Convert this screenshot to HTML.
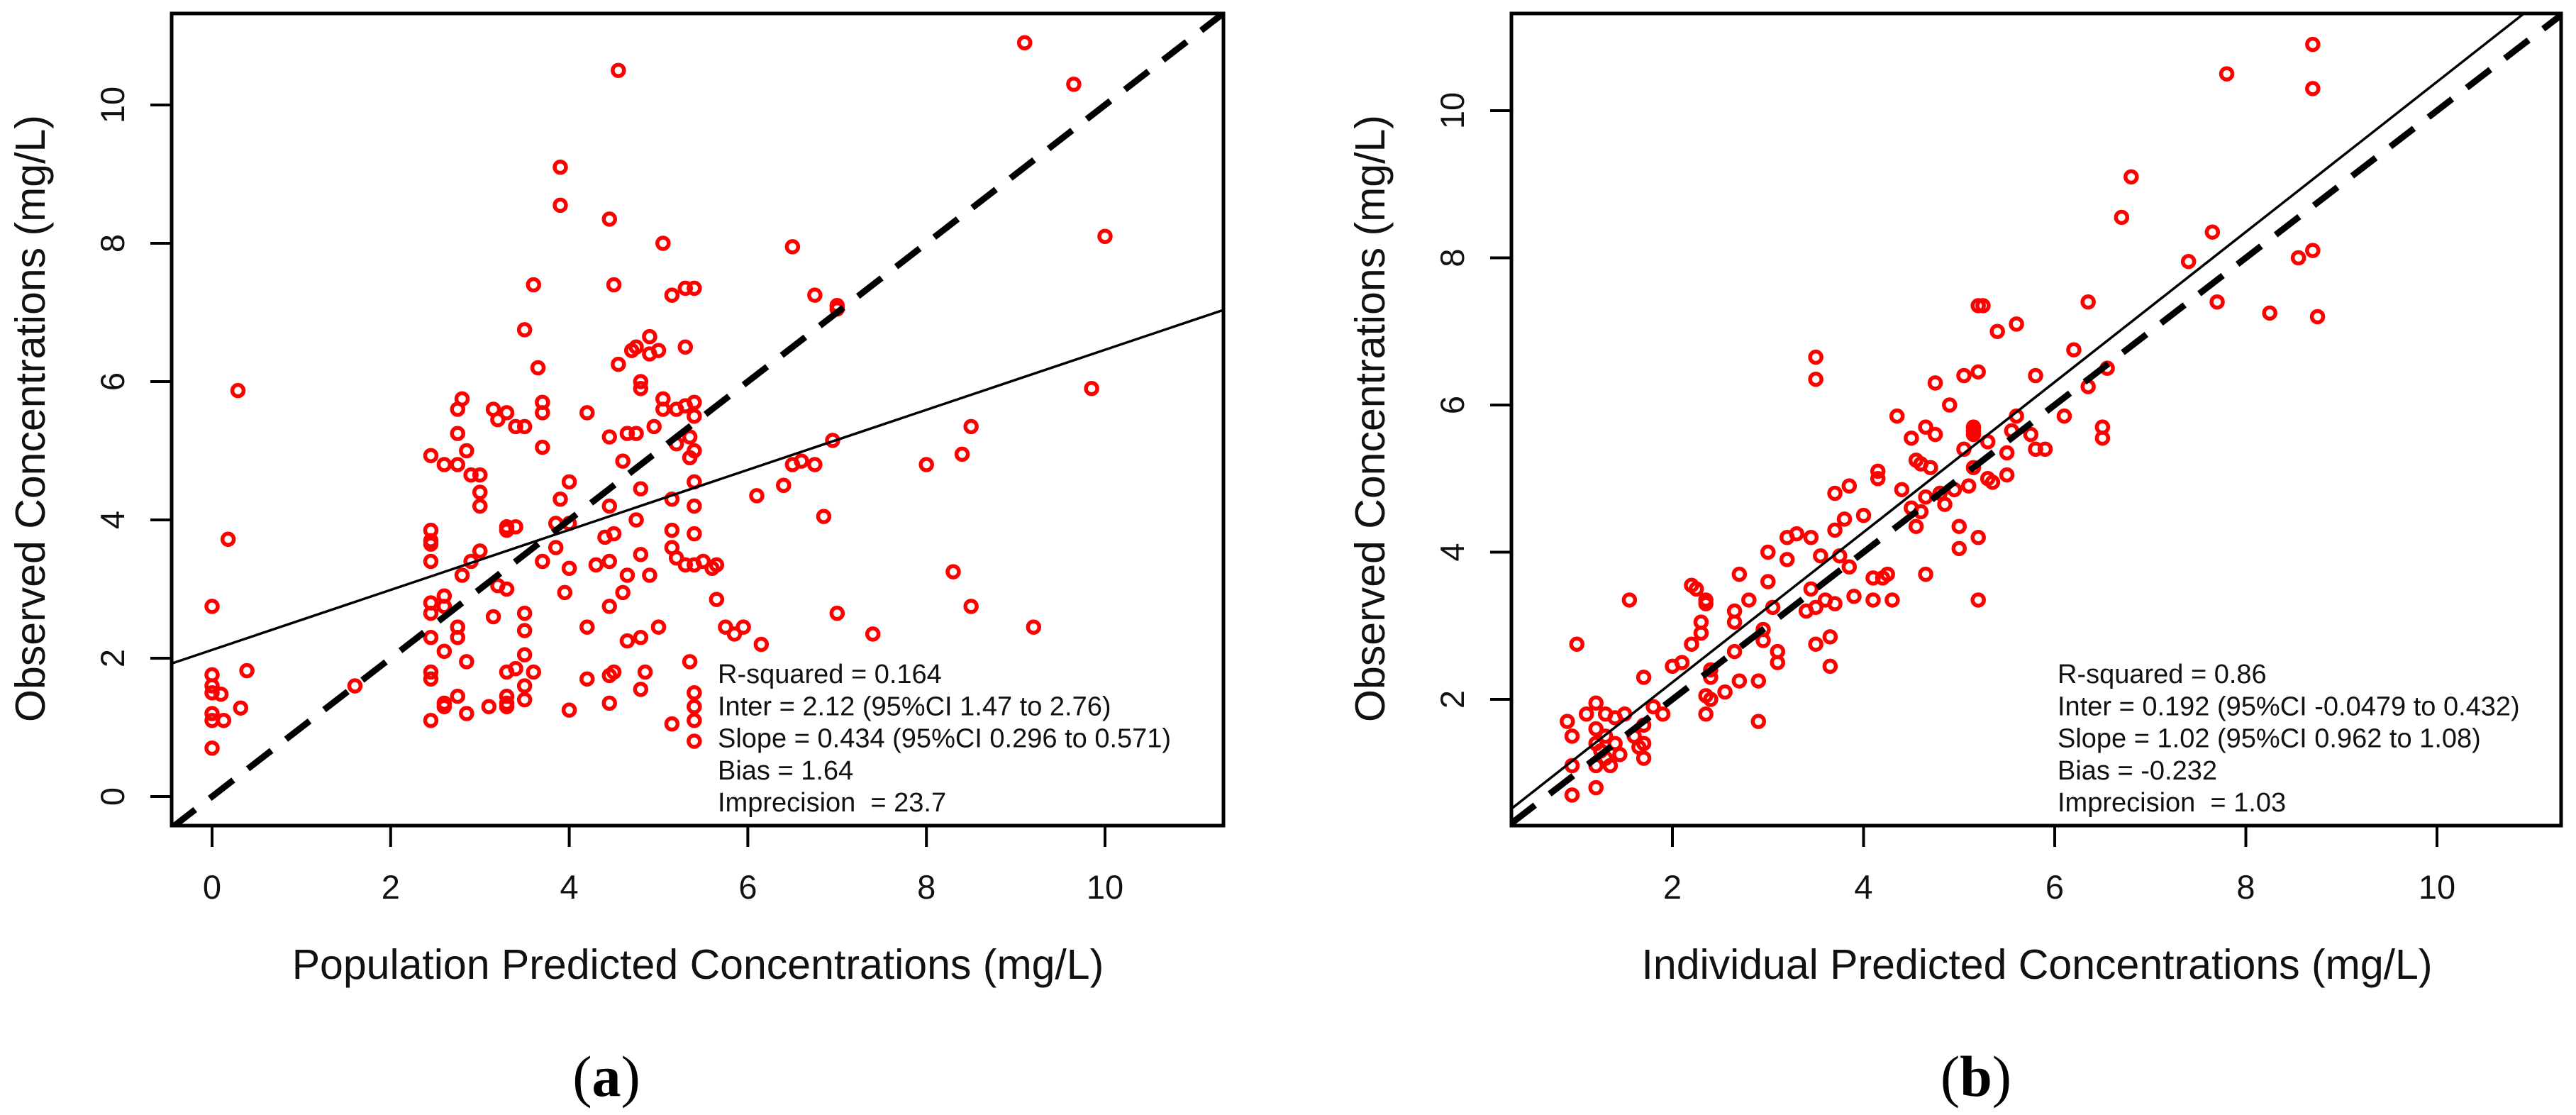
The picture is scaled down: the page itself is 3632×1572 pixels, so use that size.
<!DOCTYPE html>
<html><head><meta charset="utf-8"><style>
html,body{margin:0;padding:0;background:#fff;}
svg{display:block;font-family:"Liberation Sans",sans-serif;}
text{white-space:pre;}
</style></head><body>
<svg id="fig" width="3632" height="1572" viewBox="0 0 3632 1572" xmlns="http://www.w3.org/2000/svg">
<rect x="0" y="0" width="3632" height="1572" fill="#fff"/>
</svg>
<script>
// Panel (a) data
const popX = [0,0,0,0,0,0,0,0.1,0.13,0.18,0.29,0.32,0.39,1.6,
2.45,2.45,2.45,2.45,2.45,2.45,2.45,2.45,2.45,2.45,2.45,
2.6,2.6,2.6,2.6,2.6,2.6,2.75,2.75,2.75,2.75,2.75,2.75,2.8,2.8,2.85,2.85,2.85,2.9,2.9,
3.0,3.0,3.0,3.0,3.1,3.15,3.15,3.2,3.2,3.3,3.3,3.3,3.3,3.3,3.3,3.3,3.3,3.4,3.4,3.4,
3.5,3.5,3.5,3.5,3.5,3.5,3.5,3.6,3.6,3.65,3.7,3.7,3.7,3.7,3.85,3.85,3.9,3.9,3.9,3.95,
4.0,4.0,4.0,4.0,4.2,4.2,4.2,4.3,4.4,4.45,4.45,4.45,4.45,4.45,4.45,4.45,4.5,4.5,4.5,
4.55,4.55,4.6,4.6,4.65,4.65,4.65,4.7,4.75,4.75,4.75,4.8,4.8,4.8,4.8,4.8,4.8,4.85,
4.9,4.9,4.9,4.95,5.0,5.0,5.05,5.05,5.05,5.15,5.15,5.15,5.15,5.15,5.2,5.2,5.2,
5.3,5.3,5.3,5.3,5.35,5.35,5.35,5.4,5.4,5.4,5.4,5.4,5.4,5.4,5.4,5.4,5.4,5.4,5.4,
5.5,5.6,5.65,5.65,5.75,5.85,5.95,6.15,6.1,6.4,6.5,6.5,6.6,6.75,6.75,6.85,6.95,
7.0,7.0,7.0,7.4,8.0,8.3,8.4,8.5,8.5,9.1,9.2,9.65,9.85,10.0];
const obsA = [2.75,1.76,1.6,1.5,1.2,1.1,0.7,1.48,1.1,3.72,5.87,1.28,1.82,1.6,
3.85,3.7,3.65,3.4,2.8,2.65,2.3,1.8,1.7,1.1,4.93,
2.9,2.75,1.35,1.3,2.1,4.8,5.6,2.45,2.3,1.45,4.8,5.25,5.75,3.2,5.0,1.95,1.2,3.4,4.65,
4.65,4.4,4.2,3.55,1.3,5.6,2.6,5.45,3.05,5.55,3.9,3.85,3.0,1.8,1.45,1.35,1.3,5.35,3.9,1.85,
6.75,5.35,2.65,2.4,2.05,1.6,1.4,7.4,1.8,6.2,5.7,5.55,5.05,3.4,3.6,3.95,9.1,8.55,4.3,2.95,
4.55,3.3,1.25,3.95,5.55,2.45,1.7,3.35,3.75,8.35,5.2,4.2,3.4,2.75,1.75,1.35,7.4,3.8,1.8,
10.5,6.25,4.85,2.95,5.25,3.2,2.25,6.45,6.5,5.25,4.0,6.0,5.9,4.45,3.5,2.3,1.55,1.8,
6.65,3.2,6.4,5.35,6.45,2.45,8.0,5.75,5.6,7.25,4.3,3.85,3.6,1.05,5.6,5.1,3.45,
7.35,6.5,5.65,3.35,5.2,4.9,1.95,7.35,5.7,5.5,4.55,4.2,3.8,3.35,1.5,1.3,1.1,0.8,5.0,
3.4,3.3,3.35,2.85,2.45,2.35,2.45,2.2,4.35,4.5,4.8,7.95,4.85,7.25,4.8,4.05,5.15,
7.05,7.1,2.65,2.35,4.8,3.25,4.95,5.35,2.75,10.9,2.45,10.3,5.9,8.1];
const fitA = [2.12, 0.434];
const statsA = ["R-squared = 0.164","Inter = 2.12 (95%CI 1.47 to 2.76)","Slope = 0.434 (95%CI 0.296 to 0.571)","Bias = 1.64","Imprecision  = 23.7"];
const ticksAx = [0,2,4,6,8,10];
const ticksAy = [0,2,4,6,8,10];
// Panel (b) data
const indX = [0.9,0.95,0.95,0.95,1.0,1.1,1.2,1.2,1.2,1.2,1.2,1.25,1.3,1.3,1.3,1.35,1.4,1.4,1.45,1.5,1.55,1.6,1.65,1.7,1.7,1.7,1.7,1.8,1.9,2.0,2.1,2.2,2.2,2.25,2.3,2.3,2.35,2.35,2.35,2.35,2.4,2.4,2.4,2.55,2.65,2.65,2.65,2.7,2.7,2.8,2.9,2.9,2.95,2.95,3.0,3.0,3.05,3.1,3.1,3.2,3.2,3.3,3.4,3.45,3.45,3.5,3.5,3.5,3.5,3.55,3.6,3.65,3.65,3.7,3.7,3.7,3.75,3.8,3.85,3.85,3.9,4.0,4.15,4.15,4.1,4.1,4.2,4.25,4.3,4.35,4.4,4.5,4.5,4.55,4.55,4.6,4.6,4.65,4.65,4.65,4.7,4.75,4.75,4.8,4.85,4.9,4.95,5.0,5.0,5.05,5.05,5.1,5.15,5.15,5.15,5.15,5.2,5.2,5.2,5.2,5.25,5.3,5.3,5.35,5.4,5.5,5.5,5.55,5.6,5.6,5.75,5.8,5.8,5.9,6.1,6.2,6.35,6.35,6.5,6.5,6.55,6.7,6.8,7.4,7.65,7.7,7.8,8.25,8.55,8.7,8.7,8.7,8.75];
const obsB = [1.7,1.5,1.1,0.7,2.75,1.8,1.95,1.6,1.4,1.1,0.8,1.3,1.8,1.5,1.2,1.1,1.75,1.4,1.25,1.8,3.35,1.5,1.35,1.2,1.4,2.3,1.65,1.9,1.8,2.45,2.5,2.75,3.55,3.5,3.05,2.9,3.35,3.3,2.05,1.8,2.4,2.3,2.0,2.1,2.65,3.2,3.05,2.25,3.7,3.35,1.7,2.25,2.95,2.8,4.0,3.6,3.25,2.65,2.5,4.2,3.9,4.25,3.2,4.2,3.5,6.35,6.65,3.25,2.75,3.95,3.35,2.85,2.45,4.3,4.8,3.3,3.95,4.45,4.9,3.8,3.4,4.5,5.0,5.1,3.65,3.35,3.65,3.7,3.35,5.85,4.85,5.55,4.6,4.35,5.25,5.2,4.55,5.7,4.75,3.7,5.15,5.6,6.3,4.8,4.65,6.0,4.85,4.35,4.05,6.4,5.4,4.9,5.65,5.6,5.7,5.15,7.35,6.45,4.2,3.35,7.35,5.5,5.0,4.95,7.0,5.05,5.35,5.65,7.1,5.85,5.6,5.4,6.4,5.4,5.85,6.75,7.4,6.25,5.7,5.55,6.5,8.55,9.1,7.95,8.35,7.4,10.5,7.25,8.0,10.9,10.3,8.1,7.2];
const fitB = [0.192, 1.02];
const statsB = ["R-squared = 0.86","Inter = 0.192 (95%CI -0.0479 to 0.432)","Slope = 1.02 (95%CI 0.962 to 1.08)","Bias = -0.232","Imprecision  = 1.03"];
const ticksBx = [2,4,6,8,10];
const ticksBy = [2,4,6,8,10];

const NS = "http://www.w3.org/2000/svg";
const fig = document.getElementById('fig');
function mk(tag, attrs, parent){ const e=document.createElementNS(NS,tag); for(const k in attrs) e.setAttribute(k,attrs[k]); (parent||fig).appendChild(e); return e; }

function panel(cfg){
  const g = mk('g',{});
  
  
  const X = v => cfg.x0 + cfg.sx*v;
  const Y = v => cfg.y0 - cfg.sy*v;
  const L=cfg.box[0], R=cfg.box[1], T=cfg.box[2], B=cfg.box[3];
  const xmin=(L-cfg.x0)/cfg.sx, xmax=(R-cfg.x0)/cfg.sx;
  const cid = cfg.name+'-clip';
  const cp = mk('clipPath',{id:cid},g); mk('rect',{x:L,y:T,width:R-L,height:B-T},cp);
  const pts = mk('g',{},g);
  
  
  for(let i=0;i<cfg.xs.length;i++){
    const c = mk('circle',{cx:X(cfg.xs[i]),cy:Y(cfg.ys[i]),r:8,fill:'none',stroke:'#f00','stroke-width':5.5},pts);
    
    
  }
  const id = mk('line',{x1:X(xmin),y1:Y(xmin),x2:X(xmax),y2:Y(xmax),stroke:'#000','stroke-width':9,'stroke-dasharray':'42 26','clip-path':'url(#'+cid+')'},g);
  
  
  const fl = mk('line',{x1:X(xmin),y1:Y(cfg.fit[0]+cfg.fit[1]*xmin),x2:X(xmax),y2:Y(cfg.fit[0]+cfg.fit[1]*xmax),stroke:'#000','stroke-width':3.5,'clip-path':'url(#'+cid+')'},g);
  
  
  const box = mk('rect',{x:L,y:T,width:R-L,height:B-T,fill:'none',stroke:'#000','stroke-width':5},g);
  
  
  for(const t of cfg.tx){
    const tk = mk('line',{x1:X(t),y1:B,x2:X(t),y2:B+30,stroke:'#000','stroke-width':4},g);
    
    
    const tl = mk('text',{x:X(t),y:1267,'font-size':47,'text-anchor':'middle',fill:'#111'},g);
    tl.textContent = t;
    
    
  }
  for(const t of cfg.ty){
    const tk = mk('line',{x1:L-30,y1:Y(t),x2:L,y2:Y(t),stroke:'#000','stroke-width':4},g);
    
    
    const lx = cfg.ytickX;
    const tl = mk('text',{x:lx,y:Y(t),'font-size':47,'text-anchor':'middle',fill:'#111',transform:'rotate(-90 '+lx+' '+Y(t)+')'},g);
    tl.textContent = t;
    
    
  }
  const xt = mk('text',{x:cfg.xtitleX,y:1380,'font-size':59,'text-anchor':'middle',fill:'#111'},g);
  xt.textContent = cfg.xtitle;
  
  
  const yt = mk('text',{x:cfg.ytitleX,y:590,'font-size':59,'text-anchor':'middle',fill:'#111',transform:'rotate(-90 '+cfg.ytitleX+' 590)'},g);
  yt.textContent = 'Observed Concentrations (mg/L)';
  
  
  cfg.stats.forEach((s,i)=>{
    const st = mk('text',{x:cfg.statsX,y:963+45.3*i,'font-size':38,fill:'#111'},g);
    st.textContent = s;
    
    
  });
  const pl = mk('text',{x:cfg.labelX,y:1545,'font-size':82,'text-anchor':'middle',fill:'#000','font-family':'Liberation Serif, serif'},g);
  
  
  pl.appendChild(document.createTextNode('('));
  const b = mk('tspan',{'font-weight':'bold'},pl); b.textContent = cfg.label;
  pl.appendChild(document.createTextNode(')'));
}

panel({name:'panel-a',x0:299,sx:125.9,y0:1123,sy:97.5,box:[242,1725,19,1164],xs:popX,ys:obsA,fit:fitA,
  tx:ticksAx,ty:ticksAy,ytickX:175,ytitleX:63,xtitle:'Population Predicted Concentrations (mg/L)',xtitleX:984,
  stats:statsA,statsX:1012,label:'a',labelX:855});
panel({name:'panel-b',x0:2088.5,sx:134.75,y0:1193.5,sy:103.75,box:[2131,3611,19,1164],xs:indX,ys:obsB,fit:fitB,
  tx:ticksBx,ty:ticksBy,ytickX:2064,ytitleX:1952,xtitle:'Individual Predicted Concentrations (mg/L)',xtitleX:2872,
  stats:statsB,statsX:2901,label:'b',labelX:2786});
</script>
</body></html>
